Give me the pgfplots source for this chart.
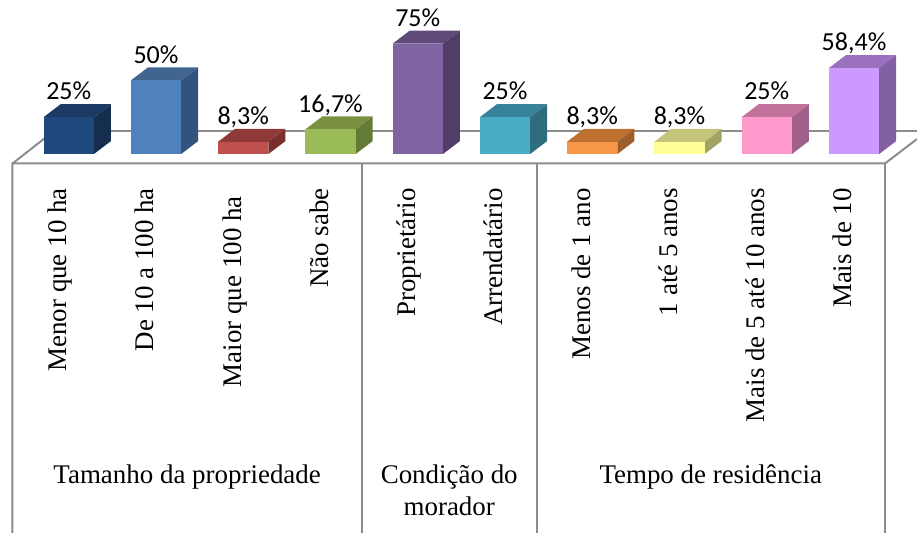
\documentclass[border=0pt]{standalone}
\usepackage{fontspec}
\setmainfont{Liberation Serif}
\newfontfamily\calibri{Carlito}
\usepackage{pgfplots}
\pgfplotsset{compat=1.18}
\definecolor{gridgray}{HTML}{8C8C8C}
\definecolor{f0}{HTML}{1F497D}\definecolor{t0}{HTML}{1A3A63}\definecolor{s0}{HTML}{152E50}
\definecolor{f1}{HTML}{4F81BD}\definecolor{t1}{HTML}{3F6590}\definecolor{s1}{HTML}{31537C}
\definecolor{f2}{HTML}{C0504D}\definecolor{t2}{HTML}{8F3A38}\definecolor{s2}{HTML}{7A2F2D}
\definecolor{f3}{HTML}{9BBB59}\definecolor{t3}{HTML}{789040}\definecolor{s3}{HTML}{657A35}
\definecolor{f4}{HTML}{8064A2}\definecolor{t4}{HTML}{604A7B}\definecolor{s4}{HTML}{513E68}
\definecolor{f5}{HTML}{4BACC6}\definecolor{t5}{HTML}{37849A}\definecolor{s5}{HTML}{306C80}
\definecolor{f6}{HTML}{F79646}\definecolor{t6}{HTML}{BD7030}\definecolor{s6}{HTML}{9C5F2C}
\definecolor{f7}{HTML}{FFFF99}\definecolor{t7}{HTML}{C4C47A}\definecolor{s7}{HTML}{A2A264}
\definecolor{f8}{HTML}{FF99CC}\definecolor{t8}{HTML}{C2719B}\definecolor{s8}{HTML}{A0608A}
\definecolor{f9}{HTML}{CC99FF}\definecolor{t9}{HTML}{9A70BF}\definecolor{s9}{HTML}{8260A3}

% one 3D column: index, value, label
\newcommand{\column}[3]{%
  \pgfmathsetmacro{\xa}{#1-0.289}
  \pgfmathsetmacro{\xb}{#1+0.289}
  \pgfmathsetmacro{\xc}{#1+0.484}
  \pgfmathsetmacro{\xd}{#1-0.094}
  \pgfmathsetmacro{\yt}{#2+8.84}
  \addplot[fill=t#1, draw=none] coordinates {(\xa,#2)(\xd,\yt)(\xc,\yt)(\xb,#2)} -- cycle;
  \addplot[fill=s#1, draw=none] coordinates {(\xb,0)(\xb,#2)(\xc,\yt)(\xc,8.84)} -- cycle;
  \addplot[fill=f#1, draw=none] coordinates {(\xa,0)(\xa,#2)(\xb,#2)(\xb,0)} -- cycle;
  \addplot[draw=none, mark=none, point meta=explicit symbolic, nodes near coords,
    every node near coord/.append style={font=\calibri\fontsize{19.5}{22}\selectfont,
      text=black, anchor=base, yshift=3.3pt}]
    coordinates {(#1,\yt)[#3]};
}

\tikzset{cat/.style={rotate=90, anchor=base east, inner sep=0pt, font=\fontsize{20.2}{24}\selectfont},
  grp/.style={anchor=base, align=center, inner sep=0pt, font=\fontsize{20.2}{24}\selectfont}}

\begin{document}
\begin{tikzpicture}
\begin{axis}[
  scale only axis,
  width=687.75pt, height=399.75pt,
  xmin=-0.788, xmax=9.722,
  ymin=-257.8, ymax=104.76,
  axis lines=none,
]
% table lines
\addplot[gridgray, line width=1.5pt] coordinates {(-0.169,15.65)(9.722,15.65)};
\addplot[gridgray, line width=1.5pt] coordinates {(-0.645,-257.8)(-0.645,-6.46)(-0.169,15.65)};
\addplot[gridgray, line width=1.5pt] coordinates {(-0.645,-6.46)(9.355,-6.46)(9.722,10.2)};
\addplot[gridgray, line width=1.5pt] coordinates {(3.361,-6.46)(3.361,-257.8)};
\addplot[gridgray, line width=1.5pt] coordinates {(5.361,-6.46)(5.361,-257.8)};
\addplot[gridgray, line width=1.5pt] coordinates {(9.355,-6.46)(9.355,-257.8)};

\column{0}{25}{25\%}
\column{1}{50}{50\%}
\column{2}{8.3}{8,3\%}
\column{3}{16.7}{16,7\%}
\column{4}{75}{75\%}
\column{5}{25}{25\%}
\column{6}{8.3}{8,3\%}
\column{7}{8.3}{8,3\%}
\column{8}{25}{25\%}
\column{9}{58.4}{58,4\%}

% category labels
\node[cat] at (axis cs:-0.024,-23.1) {Menor que 10 ha};
\node[cat] at (axis cs:0.976,-23.1) {De 10 a 100 ha};
\node[cat] at (axis cs:1.976,-28.6) {Maior que 100 ha};
\node[cat] at (axis cs:2.976,-23.1) {Não sabe};
\node[cat] at (axis cs:3.976,-23.1) {Proprietário};
\node[cat] at (axis cs:4.976,-23.1) {Arrendatário};
\node[cat] at (axis cs:5.976,-23.1) {Menos de 1 ano};
\node[cat] at (axis cs:6.976,-23.1) {1 até 5 anos};
\node[cat] at (axis cs:7.976,-23.1) {Mais de 5 até 10 anos};
\node[cat] at (axis cs:8.976,-23.1) {Mais de 10};
\node[grp] at (axis cs:1.357,-224) {Tamanho da propriedade};
\node[grp] at (axis cs:4.361,-245.6) {Condição do\\morador};
\node[grp] at (axis cs:7.358,-224) {Tempo de residência};
\end{axis}
\pgfresetboundingbox
\path[use as bounding box] (current axis.south west) rectangle (current axis.north east);
\end{tikzpicture}
\end{document}
